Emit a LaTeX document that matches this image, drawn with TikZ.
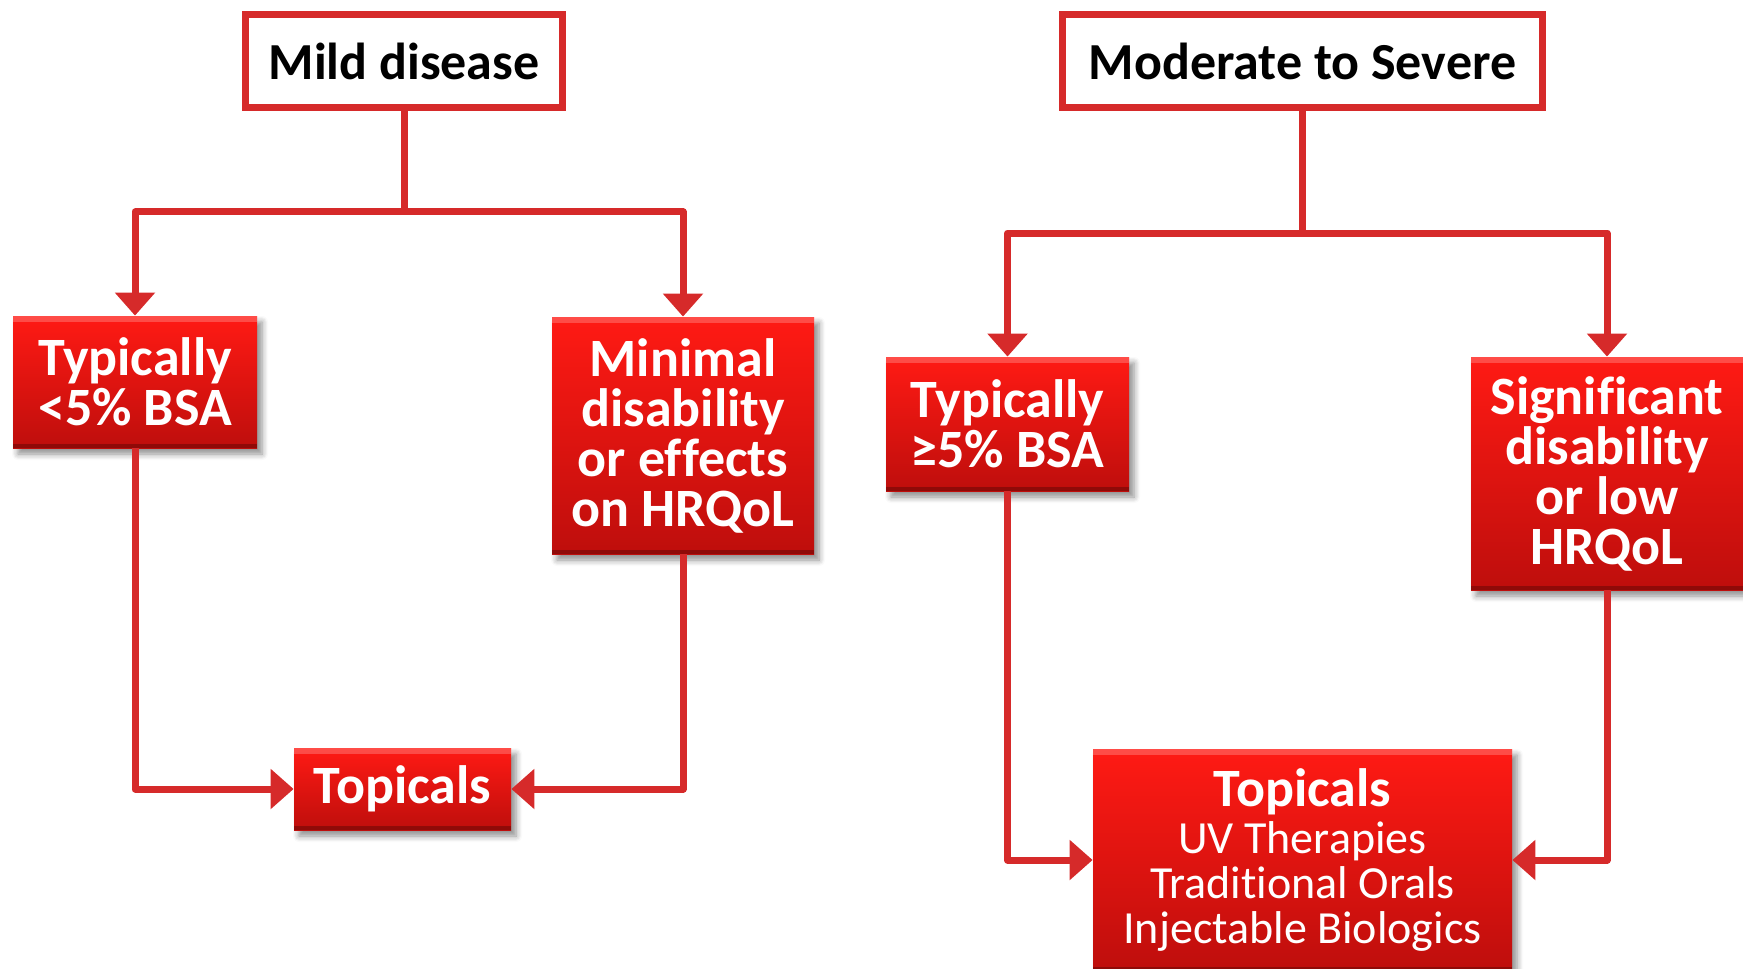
\documentclass[tikz,border=0pt]{standalone}
\usepackage{fontspec}
\setmainfont[Ligatures=NoCommon]{Carlito}
\usetikzlibrary{arrows.meta,shadows,shadows.blur}
\definecolor{lred}{RGB}{214,42,42}
\definecolor{btop}{RGB}{255,26,20}
\definecolor{bbot}{RGB}{190,14,12}
\begin{document}
\begin{tikzpicture}[x=0.5pt,y=-0.5pt,
  redbox/.style={draw=none, top color=btop, bottom color=bbot, text=white,
    font=\bfseries\fontsize{27pt}{25pt}\selectfont, align=center, inner sep=0pt,
    blur shadow={shadow xshift=2.5pt, shadow yshift=-3pt, shadow blur radius=3pt, shadow blur steps=6, shadow opacity=45},
    path picture={
      \fill[white,opacity=0.22] (path picture bounding box.north west) rectangle ([yshift=-3pt]path picture bounding box.north east);
      \fill[black,opacity=0.25] (path picture bounding box.south west) rectangle ([yshift=2pt]path picture bounding box.south east);
    }},
  headbox/.style={draw=lred, line width=3.5pt, fill=white, text=black,
    font=\bfseries\fontsize{26pt}{26pt}\selectfont, inner sep=0pt},
  conn/.style={draw=lred, line width=3.5pt, line join=round},
  arr/.style={conn, -{Triangle[width=19.5pt,length=11.5pt]}}
]
\useasboundingbox (0,0) rectangle (1743,968);

% header boxes
\node[headbox, minimum width=158.5pt, minimum height=46.5pt] (mild) at (404,61) {Mild disease};
\node[headbox, minimum width=240pt, minimum height=46.5pt] (mod) at (1302.5,61) {Moderate to Severe};

% left branch boxes
\node[redbox, minimum width=122pt, minimum height=66pt] (t1) at (135,382) {Typically\\{<}5\% BSA};
\node[redbox, minimum width=131pt, minimum height=118.5pt] (t2) at (683,435.5) {Minimal\\disability\\or effects\\on HRQoL};
\node[redbox, minimum width=108.5pt, minimum height=41pt] (top1) at (402.5,789) {Topicals};

% right branch boxes
\node[redbox, minimum width=121.5pt, minimum height=67pt] (t3) at (1007.5,424) {Typically\\≥5\% BSA};
\node[redbox, minimum width=136pt, minimum height=116.5pt] (t4) at (1607,473.5) {Significant\\disability\\or low\\HRQoL};
\node[redbox, minimum width=209.5pt, minimum height=111pt,
      font=\fontsize{23pt}{22.5pt}\selectfont] (top2) at (1302.5,860)
  {{\bfseries\fontsize{27pt}{25pt}\selectfont Topicals}\\[1pt]UV Therapies\\Traditional Orals\\Injectable Biologics};

% junction points
\coordinate (mj) at (404,212);
\coordinate (mj2) at (1302.5,233);

% connectors, mild
\draw[conn] (mild.south) -- (mj);
\draw[arr] (mj) -| (t1.north);
\draw[arr] (mj) -| (t2.north);
\draw[arr] (t1.south) |- (top1.west);
\draw[arr] (t2.south) |- (top1.east);

% connectors, moderate
\draw[conn] (mod.south) -- (mj2);
\draw[arr] (mj2) -| (t3.north);
\draw[arr] (mj2) -| (t4.north);
\draw[arr] (t3.south) |- (top2.west);
\draw[arr] (t4.south) |- (top2.east);
\end{tikzpicture}
\end{document}
